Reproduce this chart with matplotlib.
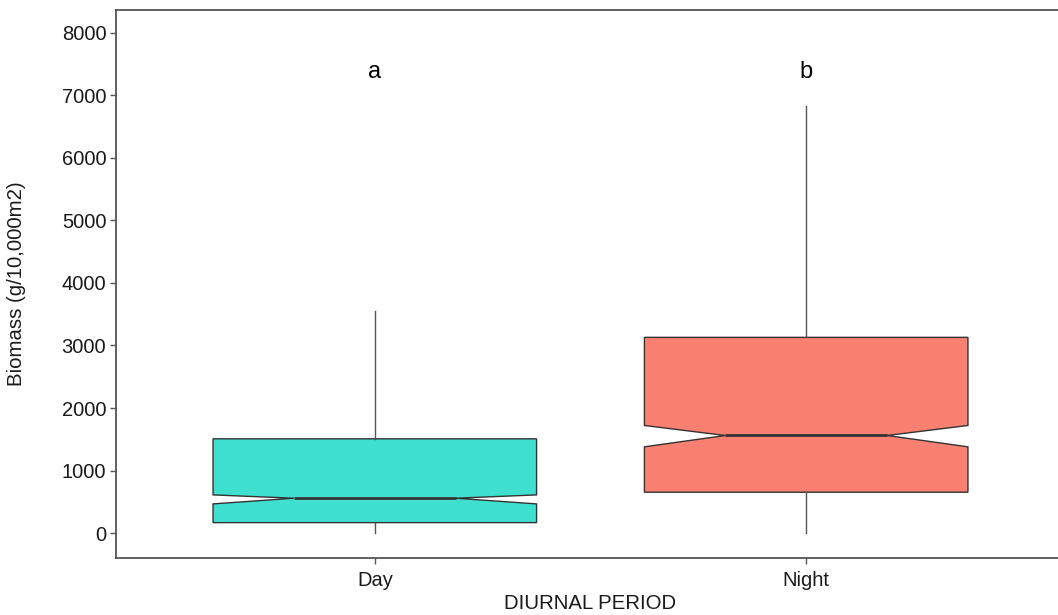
import matplotlib
matplotlib.use("Agg")
import matplotlib.pyplot as plt

plt.rcParams["font.family"] = ["Liberation Sans", "DejaVu Sans"]

# values
periods = ["Day", "Night"]
medians = [560, 1562]
q1 = [170, 656]
q3 = [1509, 3130]
whisker_low = [10, 10]
whisker_high = [3546, 6826]
notch_low = [469, 1381]
notch_high = [613, 1722]
fill_colors = ["#40E0D0", "#FA8072"]
letters = ["a", "b"]
letter_y = 7370

stats = []
for i in range(len(periods)):
    stats.append({
        "label": periods[i],
        "med": medians[i],
        "q1": q1[i],
        "q3": q3[i],
        "whislo": whisker_low[i],
        "whishi": whisker_high[i],
        "cilo": notch_low[i],
        "cihi": notch_high[i],
        "fliers": [],
    })

fig = plt.figure(figsize=(10.58, 6.15), dpi=100)
# right border of the panel falls just outside the picture, like the reference
ax = fig.add_axes([116 / 1058, (615 - 558.3) / 615, (1065 - 116) / 1058, (558.3 - 10) / 615])

positions = list(range(1, len(periods) + 1))
bp = ax.bxp(stats, positions=positions, widths=0.75, shownotches=True, showcaps=False,
            showfliers=False, patch_artist=True,
            boxprops=dict(edgecolor="#333333", linewidth=1.0),
            whiskerprops=dict(color="#555555", linewidth=1.0),
            medianprops=dict(color="#333333", linewidth=2.0))
for patch, c in zip(bp["boxes"], fill_colors):
    patch.set_facecolor(c)

for pos, letter in zip(positions, letters):
    ax.text(pos, letter_y, letter, ha="center", va="center", fontsize=17, color="black")

ax.set_xlim(0.4, 2.6)
ax.set_ylim(-400, 8360)
ax.set_yticks(range(0, 8001, 1000))
ax.set_xticks(positions)
ax.set_xticklabels(periods)

ax.tick_params(axis="both", labelsize=14.5, colors="#555555", labelcolor="#1a1a1a",
               length=4, width=1.0, pad=3)
ax.tick_params(axis="x", pad=5)
for s in ax.spines.values():
    s.set_color("#555555")
    s.set_linewidth(1.3)

ax.set_xlabel("DIURNAL PERIOD", fontsize=14.7, color="#1a1a1a", labelpad=3)
ax.set_ylabel("Biomass (g/10,000m2)", fontsize=14.7, color="#1a1a1a", labelpad=26)

fig.savefig("out.png", dpi=100)
